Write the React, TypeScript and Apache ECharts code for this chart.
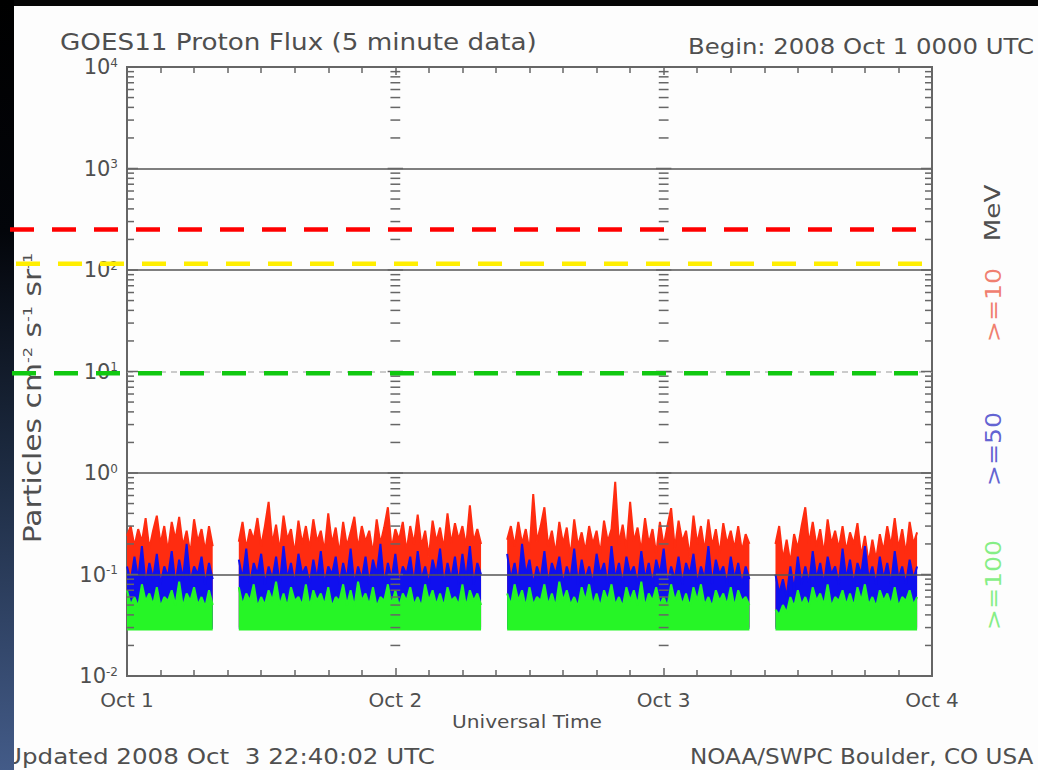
import React, { useEffect, useRef } from 'react';
import * as echarts from 'echarts';

// ---------- data ----------
const dayLabels = ['Oct 1', 'Oct 2', 'Oct 3', 'Oct 4'];
// each data segment starts at this many hours after 2008 Oct 1 0000 UTC; samples every 20 minutes
const segmentStartHours = [0, 10, 34, 58];
const stepHours = 1 / 3;

// >=10 MeV
const red1 = [0.24, 0.3, 0.19, 0.28, 0.21, 0.36, 0.18, 0.27, 0.38, 0.2, 0.3, 0.17, 0.33, 0.22, 0.37, 0.19, 0.27, 0.16, 0.35, 0.21, 0.28, 0.17, 0.3, 0.19];
const red2 = [0.21, 0.33, 0.18, 0.28, 0.22, 0.36, 0.19, 0.3, 0.52, 0.2, 0.31, 0.17, 0.38, 0.22, 0.28, 0.16, 0.34, 0.2, 0.3, 0.18, 0.35, 0.21, 0.27, 0.17, 0.4, 0.2, 0.29, 0.16, 0.33, 0.19, 0.26, 0.37, 0.18, 0.3, 0.21, 0.27, 0.16, 0.35, 0.2, 0.29, 0.46, 0.18, 0.28, 0.22, 0.33, 0.17, 0.3, 0.2, 0.39, 0.19, 0.27, 0.15, 0.34, 0.21, 0.29, 0.18, 0.4, 0.2, 0.32, 0.22, 0.3, 0.19, 0.48, 0.21, 0.28, 0.2];
const red3 = [0.22, 0.3, 0.19, 0.33, 0.2, 0.28, 0.17, 0.62, 0.21, 0.3, 0.46, 0.19, 0.27, 0.16, 0.33, 0.2, 0.29, 0.15, 0.35, 0.19, 0.26, 0.17, 0.3, 0.2, 0.27, 0.16, 0.34, 0.21, 0.28, 0.82, 0.2, 0.31, 0.18, 0.52, 0.21, 0.29, 0.17, 0.36, 0.2, 0.28, 0.16, 0.33, 0.19, 0.3, 0.45, 0.18, 0.34, 0.21, 0.27, 0.15, 0.38, 0.2, 0.3, 0.17, 0.35, 0.19, 0.28, 0.16, 0.32, 0.2, 0.27, 0.18, 0.3, 0.17, 0.25, 0.2];
const red4 = [0.2, 0.3, 0.14, 0.22, 0.13, 0.25, 0.18, 0.3, 0.46, 0.2, 0.33, 0.19, 0.28, 0.16, 0.35, 0.2, 0.27, 0.18, 0.3, 0.17, 0.26, 0.2, 0.32, 0.15, 0.24, 0.13, 0.22, 0.14, 0.25, 0.17, 0.3, 0.19, 0.36, 0.18, 0.28, 0.16, 0.33, 0.2, 0.26];

// >=50 MeV
const blue1 = [0.12, 0.085, 0.15, 0.09, 0.19, 0.08, 0.13, 0.09, 0.16, 0.08, 0.12, 0.095, 0.17, 0.08, 0.14, 0.09, 0.2, 0.085, 0.12, 0.1, 0.15, 0.08, 0.13, 0.09];
const blue2 = [0.14, 0.09, 0.18, 0.08, 0.13, 0.1, 0.16, 0.08, 0.12, 0.09, 0.15, 0.08, 0.19, 0.09, 0.13, 0.08, 0.16, 0.1, 0.12, 0.08, 0.14, 0.09, 0.17, 0.08, 0.12, 0.1, 0.15, 0.08, 0.13, 0.09, 0.18, 0.08, 0.12, 0.09, 0.15, 0.08, 0.14, 0.1, 0.2, 0.08, 0.13, 0.09, 0.16, 0.08, 0.12, 0.1, 0.15, 0.08, 0.17, 0.09, 0.12, 0.08, 0.14, 0.1, 0.18, 0.08, 0.13, 0.09, 0.15, 0.08, 0.16, 0.09, 0.19, 0.08, 0.13, 0.1];
const blue3 = [0.16, 0.09, 0.13, 0.08, 0.2, 0.1, 0.14, 0.08, 0.12, 0.09, 0.17, 0.08, 0.13, 0.1, 0.15, 0.08, 0.12, 0.09, 0.18, 0.08, 0.14, 0.09, 0.12, 0.08, 0.16, 0.1, 0.13, 0.08, 0.19, 0.09, 0.13, 0.08, 0.15, 0.1, 0.12, 0.08, 0.17, 0.09, 0.13, 0.08, 0.14, 0.1, 0.18, 0.08, 0.12, 0.09, 0.15, 0.08, 0.13, 0.1, 0.16, 0.08, 0.12, 0.09, 0.19, 0.08, 0.14, 0.1, 0.12, 0.08, 0.15, 0.09, 0.13, 0.08, 0.12, 0.09];
const blue4 = [0.1, 0.065, 0.09, 0.06, 0.12, 0.07, 0.15, 0.08, 0.12, 0.08, 0.17, 0.09, 0.13, 0.08, 0.15, 0.1, 0.12, 0.08, 0.18, 0.09, 0.14, 0.08, 0.13, 0.1, 0.19, 0.09, 0.12, 0.08, 0.15, 0.09, 0.13, 0.08, 0.17, 0.09, 0.12, 0.08, 0.14, 0.09, 0.12];

// >=100 MeV
const green1 = [0.07, 0.05, 0.06, 0.048, 0.08, 0.055, 0.065, 0.05, 0.075, 0.048, 0.06, 0.055, 0.07, 0.05, 0.085, 0.048, 0.065, 0.055, 0.075, 0.05, 0.06, 0.048, 0.07, 0.05];
const green2 = [0.075, 0.05, 0.065, 0.055, 0.08, 0.048, 0.06, 0.05, 0.07, 0.055, 0.085, 0.05, 0.065, 0.048, 0.075, 0.055, 0.06, 0.05, 0.08, 0.048, 0.07, 0.055, 0.065, 0.05, 0.075, 0.048, 0.06, 0.055, 0.08, 0.05, 0.07, 0.048, 0.085, 0.055, 0.065, 0.05, 0.075, 0.048, 0.06, 0.055, 0.08, 0.05, 0.07, 0.048, 0.065, 0.055, 0.075, 0.05, 0.06, 0.048, 0.08, 0.055, 0.07, 0.05, 0.065, 0.048, 0.075, 0.055, 0.06, 0.05, 0.08, 0.048, 0.07, 0.055, 0.065, 0.05];
const green3 = [0.065, 0.05, 0.08, 0.055, 0.07, 0.048, 0.075, 0.05, 0.06, 0.055, 0.08, 0.05, 0.065, 0.048, 0.085, 0.055, 0.07, 0.05, 0.06, 0.048, 0.075, 0.055, 0.08, 0.05, 0.065, 0.048, 0.07, 0.055, 0.08, 0.05, 0.06, 0.048, 0.075, 0.055, 0.07, 0.05, 0.085, 0.048, 0.065, 0.055, 0.075, 0.05, 0.06, 0.048, 0.08, 0.055, 0.07, 0.05, 0.065, 0.048, 0.075, 0.055, 0.08, 0.05, 0.06, 0.048, 0.07, 0.055, 0.065, 0.05, 0.075, 0.048, 0.07, 0.055, 0.06, 0.05];
const green4 = [0.045, 0.04, 0.05, 0.042, 0.06, 0.048, 0.07, 0.05, 0.06, 0.048, 0.075, 0.055, 0.065, 0.05, 0.08, 0.048, 0.06, 0.055, 0.07, 0.05, 0.065, 0.048, 0.075, 0.055, 0.08, 0.05, 0.06, 0.048, 0.07, 0.055, 0.065, 0.05, 0.075, 0.048, 0.06, 0.055, 0.07, 0.05, 0.06];

const channelNames = ['>=10', '>=50', '>=100'];
const channelColors = ['#ff2c10', '#1010ee', '#26f526'];
const channelLabelColors = ['#f08070', '#6464d2', '#86ee86'];
// lower edge of the dense trace band for each channel
const bandFloor = [0.03, 0.029, 0.028];

// axis decoration
const decadeExponents = [-2, -1, 0, 1, 2, 3, 4];
const minorMultipliers = [2, 3, 4, 5, 6, 7, 8, 9];
const dayColumnHours = [0, 24, 48, 72];
const solidGridLevels = [1000, 100, 1, 0.1];
const dashedGridLevels = [10];

// slide annotation dashed lines
const overlayLevels = [250, 115, 9.6];
const overlayColors = ['#ff0000', '#ffee00', '#10c810'];
const overlayStartX = [10, 16, 12];
const overlayEndX = [916, 922, 918];

const FONT = '"DejaVu Sans", "Liberation Sans", sans-serif';
const TXT = '#4f4f4f';

function buildSeries(segs: number[][]) {
  const out: any[] = [];
  segs.forEach((seg, k) => {
    const start = segmentStartHours[k];
    seg.forEach((v, j) => out.push([start + j * stepHours, v]));
    if (k < segs.length - 1) out.push([start + seg.length * stepHours, '-']);
  });
  return out;
}

function supLabel(e: number) {
  return '10{s|' + String(e) + '}';
}

export default function App() {
  const ref = useRef<HTMLDivElement>(null);
  useEffect(() => {
    if (!ref.current) return;
    const chart = echarts.init(ref.current, undefined, { renderer: 'svg' });

    const tickData: any[] = [];
    dayColumnHours.forEach((h) => {
      decadeExponents.forEach((e) => {
        tickData.push([h, Math.pow(10, e), 1]);
        if (e < 4) minorMultipliers.forEach((m) => tickData.push([h, m * Math.pow(10, e), 0]));
      });
    });

    const seriesData = [
      buildSeries([red1, red2, red3, red4]),
      buildSeries([blue1, blue2, blue3, blue4]),
      buildSeries([green1, green2, green3, green4]),
    ];

    const xAxisBase = {
      type: 'value',
      min: 0,
      max: 72,
      interval: 24,
      axisLine: { show: false },
      axisTick: { show: true, inside: true, length: 8, lineStyle: { color: '#666', width: 1.5 } },
      minorTick: { show: true, splitNumber: 8, length: 6, lineStyle: { color: '#666', width: 1.5 } },
      splitLine: { show: false },
      minorSplitLine: { show: false },
    };

    chart.setOption({
      animation: false,
      backgroundColor: '#fdfdfd',
      grid: { left: 127, top: 67, width: 805, height: 609, show: true, borderColor: '#666', borderWidth: 2, backgroundColor: 'transparent' },
      xAxis: [
        {
          ...xAxisBase,
          position: 'bottom',
          axisLabel: {
            show: true,
            margin: 14,
            fontSize: 20,
            fontFamily: FONT,
            color: TXT,
            formatter: (v: number) => dayLabels[Math.round(v / 24)] || '',
          },
        },
        { ...xAxisBase, position: 'top', axisLabel: { show: false } },
      ],
      yAxis: [
        {
          type: 'log',
          logBase: 10,
          min: 0.01,
          max: 10000,
          axisLine: { show: false },
          axisTick: { show: false },
          splitLine: { show: false },
          axisLabel: {
            margin: 9,
            fontSize: 21,
            fontFamily: FONT,
            color: TXT,
            formatter: (v: number) => supLabel(Math.round(Math.log10(v))),
            rich: {
              s: { fontSize: 12, fontFamily: FONT, color: TXT, verticalAlign: 'top', lineHeight: 12, padding: [0, 0, 11, 0] },
            },
          },
        },
      ],
      series: [
        ...seriesData.map((d, i) => ({
          type: 'line',
          name: channelNames[i],
          data: d,
          showSymbol: false,
          symbol: 'none',
          connectNulls: false,
          lineStyle: { color: channelColors[i], width: 2 },
          areaStyle: { color: channelColors[i], opacity: 1, origin: bandFloor[i] },
          z: 2 + i,
          ...(i === 2
            ? {
                markLine: {
                  silent: true,
                  symbol: 'none',
                  label: { show: false },
                  data: [
                    ...solidGridLevels.map((v) => ({ yAxis: v, lineStyle: { color: '#555', width: 1.5, type: 'solid' } })),
                    ...dashedGridLevels.map((v) => ({ yAxis: v, lineStyle: { color: '#bbb', width: 1.5, type: [6, 5] } })),
                  ],
                },
              }
            : {}),
        })),
        {
          type: 'custom',
          silent: true,
          data: tickData,
          z: 10,
          renderItem: (_p: any, api: any) => {
            const h = api.value(0);
            const pt = api.coord([h, api.value(1)]);
            const major = api.value(2) === 1;
            const len = major ? 11 : 7;
            let x1 = pt[0];
            let x2 = pt[0];
            if (h === 0) x2 = pt[0] + len;
            else if (h === 72) x1 = pt[0] - len;
            else {
              x1 = pt[0] - len * 0.7;
              x2 = pt[0] + len * 0.7;
            }
            return {
              type: 'line',
              shape: { x1, y1: pt[1], x2, y2: pt[1] },
              style: { stroke: '#666', lineWidth: 1.5 },
            };
          },
        },
      ],
    });

    const overlayElems = overlayLevels.map((v, i) => {
      const y = chart.convertToPixel({ yAxisIndex: 0 }, v) as number;
      return {
        type: 'line',
        id: 'ov' + i,
        z: 300,
        shape: { x1: overlayStartX[i], y1: y, x2: overlayEndX[i], y2: y },
        style: { stroke: overlayColors[i], lineWidth: 4.5, lineDash: [24, 18] },
      };
    });

    const txt = (id: string, text: string, x: number, y: number, size: number, sx: number, extra: any = {}, rot = 0) => ({
      type: 'text',
      id,
      x,
      y,
      rotation: rot,
      scaleX: sx,
      z: 50,
      style: {
        text,
        fontSize: size,
        fontFamily: FONT,
        fill: TXT,
        align: 'left',
        textAlign: 'left',
        verticalAlign: 'middle',
        textVerticalAlign: 'middle',
        ...extra,
      },
    });
    const center = { align: 'center', textAlign: 'center' };

    chart.setOption({
      graphic: {
        elements: [
          txt('title', 'GOES11 Proton Flux (5 minute data)', 60, 42, 23, 1.14),
          txt('begin', 'Begin: 2008 Oct 1 0000 UTC', 688, 47, 21, 1.16),
          txt('ut', 'Universal Time', 527, 722, 18, 1.12, center),
          txt('upd', 'Updated 2008 Oct  3 22:40:02 UTC', 4, 757, 21, 1.17),
          txt('noaa', 'NOAA/SWPC Boulder, CO USA', 690, 757, 21, 1.1),
          txt(
            'ylab',
            'Particles cm{s|-2} s{s|-1} sr{s|-1}',
            33,
            398,
            24,
            1.24,
            {
              ...center,
              rich: { s: { fontSize: 13, fontFamily: FONT, fill: TXT, verticalAlign: 'top', lineHeight: 13, padding: [0, 0, 13, 0] } },
            },
            Math.PI / 2
          ),
          txt('mev', 'MeV', 993, 213, 21, 1.25, center, Math.PI / 2),
          ...channelNames.map((n, i) =>
            txt('ch' + i, n, 993, [305, 449, 585][i], 21, 1.2, { ...center, fill: channelLabelColors[i] }, Math.PI / 2)
          ),
          {
            type: 'rect',
            id: 'topstrip',
            z: 200,
            shape: { x: 0, y: 0, width: 1038, height: 6 },
            style: { fill: '#060606' },
          },
          {
            type: 'rect',
            id: 'leftstrip',
            z: 200,
            shape: { x: 0, y: 0, width: 14, height: 770 },
            style: {
              fill: {
                type: 'linear',
                x: 0,
                y: 0,
                x2: 0,
                y2: 1,
                colorStops: [
                  { offset: 0, color: '#000000' },
                  { offset: 0.3, color: '#03050a' },
                  { offset: 0.6, color: '#1c2a40' },
                  { offset: 1, color: '#435b88' },
                ],
              },
            },
          },
          ...overlayElems,
        ],
      },
    });

    return () => chart.dispose();
  }, []);

  return <div ref={ref} style={{ position: 'fixed', left: 0, top: 0, width: 1038, height: 770, background: '#fff' }} />;
}
